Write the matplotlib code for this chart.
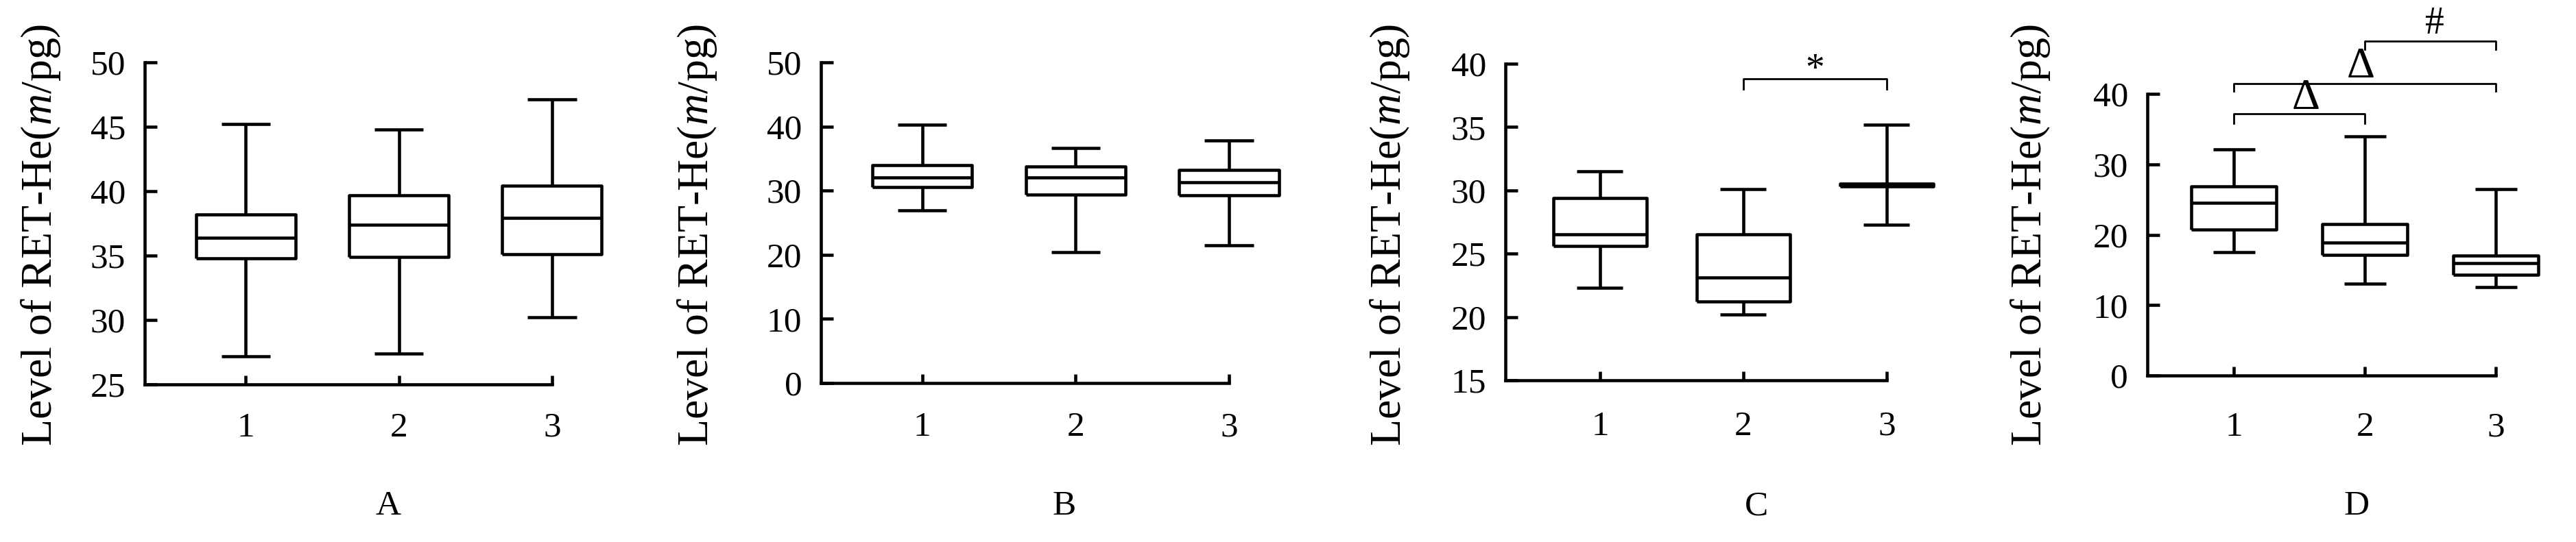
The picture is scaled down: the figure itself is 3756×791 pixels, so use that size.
import matplotlib
matplotlib.use("Agg")
import matplotlib.pyplot as plt

plt.rcParams['font.family'] = ['Liberation Serif', 'DejaVu Serif']
plt.rcParams['mathtext.fontset'] = 'custom'
plt.rcParams['mathtext.rm'] = 'Liberation Serif'
plt.rcParams['mathtext.it'] = 'Liberation Serif:italic'

groups = ["1", "2", "3"]

# box stats per panel (whisker low, Q1, median, Q3, whisker high)
a_whislo = [27.2, 27.4, 30.2]
a_q1 = [34.8, 34.9, 35.1]
a_med = [36.4, 37.4, 37.9]
a_q3 = [38.2, 39.7, 40.4]
a_whishi = [45.2, 44.8, 47.1]

b_whislo = [26.9, 20.4, 21.5]
b_q1 = [30.5, 29.4, 29.3]
b_med = [32.0, 32.1, 31.3]
b_q3 = [34.0, 33.8, 33.2]
b_whishi = [40.3, 36.6, 37.8]

c_whislo = [22.3, 20.2, 27.3]
c_q1 = [25.6, 21.2, 30.32]
c_med = [26.5, 23.1, 30.43]
c_q3 = [29.4, 26.5, 30.55]
c_whishi = [31.5, 30.1, 35.2]

d_whislo = [17.5, 13.0, 12.6]
d_q1 = [20.7, 17.1, 14.3]
d_med = [24.5, 18.9, 16.0]
d_q3 = [26.9, 21.5, 17.0]
d_whishi = [32.1, 34.0, 26.5]

a_ticks = [25, 30, 35, 40, 45, 50]
b_ticks = [0, 10, 20, 30, 40, 50]
c_ticks = [15, 20, 25, 30, 35, 40]
d_ticks = [0, 10, 20, 30, 40]

# significance brackets: (from, to, bar y, leg end y, mark, mark x, mark baseline y, size)
c_sig = [(2, 3, 38.8, 38.0, "*", 2.5, 38.7, 40)]
d_sig = [(1, 2, 37.2, 35.8, "Δ", 1.55, 37.9, 46),
         (1, 3, 41.5, 40.4, "Δ", 1.97, 42.3, 46),
         (2, 3, 47.5, 46.3, "#", 2.53, 48.6, 40)]

LW = 3.3
fig = plt.figure(figsize=(37.56, 7.91), dpi=100)


def panel(rect, whislo, q1, med, q3, whishi, ticks, letter, ylab_x, letter_x, xpad, sig=()):
    ax = fig.add_axes(rect)
    stats = []
    for i in range(len(groups)):
        stats.append(dict(whislo=whislo[i], q1=q1[i], med=med[i], q3=q3[i],
                          whishi=whishi[i], label=groups[i]))
    props = dict(color="black", linewidth=LW)
    arts = ax.bxp(stats, positions=[1, 2, 3], widths=0.65, capwidths=0.32,
                  showfliers=False, boxprops=props, medianprops=props,
                  whiskerprops=props, capprops=props)
    for k in arts:
        for a in arts[k]:
            a.set_clip_on(False)
            if hasattr(a, "set_solid_capstyle"):
                a.set_solid_capstyle("butt")
    ax.set_xlim(0.34, 3)
    ax.set_ylim(ticks[0], ticks[-1])
    ax.set_yticks(ticks)
    ax.set_xticks([1, 2, 3])
    ax.set_xticklabels(groups)
    for s in ["top", "right"]:
        ax.spines[s].set_visible(False)
    for s in ["left", "bottom"]:
        ax.spines[s].set_linewidth(LW)
    ax.tick_params(axis="y", direction="in", length=13, width=LW, labelsize=37, pad=20)
    ax.tick_params(axis="x", direction="in", length=9.5, width=LW, labelsize=37, pad=xpad)
    for x0, x1, yb, yl, mark, mx, my, fs in sig:
        ax.plot([x0, x0, x1, x1], [yl, yb, yb, yl], color="black", lw=2.0, clip_on=False)
        ax.text(mx, my, mark, ha="center", va="baseline", fontsize=fs, clip_on=False)
    fig.text(ylab_x / 3756, 1 - 343 / 791, "Level of RET-He($\\mathit{m}$/pg)",
             rotation=90, ha="center", va="center", fontsize=46)
    fig.text(letter_x / 3756, 1 - 739 / 791, letter, ha="center", va="center", fontsize=37)
    return ax


panel([0.0562, 0.2908, 0.1581, 0.5942], a_whislo, a_q1, a_med, a_q3, a_whishi,
      a_ticks, "A", 60, 566, 29)
panel([0.3187, 0.2933, 0.1584, 0.5917], b_whislo, b_q1, b_med, b_q3, b_whishi,
      b_ticks, "B", 1017, 1552, 30)
panel([0.5844, 0.2984, 0.1480, 0.5840], c_whislo, c_q1, c_med, c_q3, c_whishi,
      c_ticks, "C", 2026, 2561, 32, c_sig)
panel([0.8336, 0.3072, 0.1353, 0.5196], d_whislo, d_q1, d_med, d_q3, d_whishi,
      d_ticks, "D", 2961, 3436, 38, d_sig)

fig.savefig("out.png", dpi=100)
